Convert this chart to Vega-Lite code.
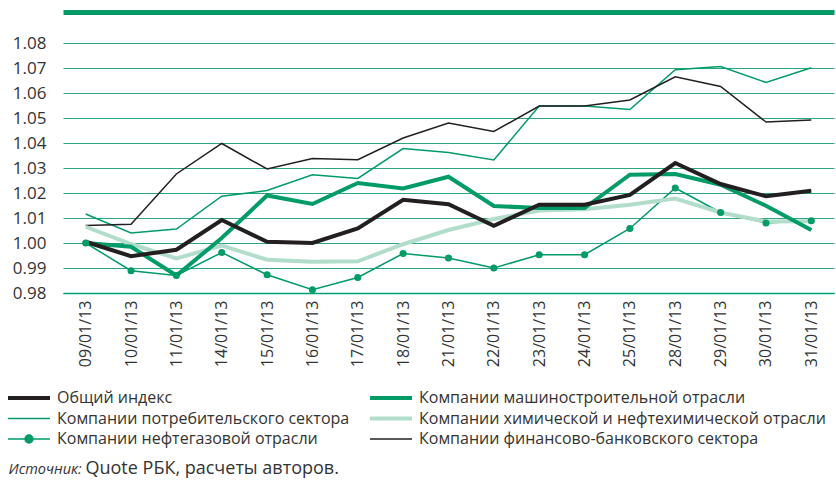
{
  "$schema": "https://vega.github.io/schema/vega-lite/v6.json",
  "width": 771,
  "height": 250,
  "autosize": "none",
  "padding": {"left": 63, "top": 43, "right": 2, "bottom": 188},
  "background": "white",
  "config": {"view": {"stroke": null}, "font": "Open Sans"},
  "data": {"values": [
    {"d": "09/01/13", "Компании химической и нефтехимической отрасли": 1.0065, "Компании потребительского сектора": 1.0116, "Компании финансово-банковского сектора": 1.0070, "Компании нефтегазовой отрасли": 1.0000, "Компании машиностроительной отрасли": 1.0000, "Общий индекс": 1.0005},
    {"d": "10/01/13", "Компании химической и нефтехимической отрасли": 0.9996, "Компании потребительского сектора": 1.0040, "Компании финансово-банковского сектора": 1.0075, "Компании нефтегазовой отрасли": 0.9889, "Компании машиностроительной отрасли": 0.9985, "Общий индекс": 0.9947},
    {"d": "11/01/13", "Компании химической и нефтехимической отрасли": 0.9938, "Компании потребительского сектора": 1.0056, "Компании финансово-банковского сектора": 1.0276, "Компании нефтегазовой отрасли": 0.9870, "Компании машиностроительной отрасли": 0.9870, "Общий индекс": 0.9973},
    {"d": "14/01/13", "Компании химической и нефтехимической отрасли": 0.9990, "Компании потребительского сектора": 1.0187, "Компании финансово-банковского сектора": 1.0398, "Компании нефтегазовой отрасли": 0.9962, "Компании машиностроительной отрасли": 1.0020, "Общий индекс": 1.0092},
    {"d": "15/01/13", "Компании химической и нефтехимической отрасли": 0.9933, "Компании потребительского сектора": 1.0210, "Компании финансово-банковского сектора": 1.0296, "Компании нефтегазовой отрасли": 0.9873, "Компании машиностроительной отрасли": 1.0190, "Общий индекс": 1.0005},
    {"d": "16/01/13", "Компании химической и нефтехимической отрасли": 0.9925, "Компании потребительского сектора": 1.0273, "Компании финансово-банковского сектора": 1.0338, "Компании нефтегазовой отрасли": 0.9813, "Компании машиностроительной отрасли": 1.0156, "Общий индекс": 1.0000},
    {"d": "17/01/13", "Компании химической и нефтехимической отрасли": 0.9927, "Компании потребительского сектора": 1.0258, "Компании финансово-банковского сектора": 1.0333, "Компании нефтегазовой отрасли": 0.9862, "Компании машиностроительной отрасли": 1.0240, "Общий индекс": 1.0058},
    {"d": "18/01/13", "Компании химической и нефтехимической отрасли": 0.9995, "Компании потребительского сектора": 1.0378, "Компании финансово-банковского сектора": 1.0420, "Компании нефтегазовой отрасли": 0.9958, "Компании машиностроительной отрасли": 1.0218, "Общий индекс": 1.0173},
    {"d": "21/01/13", "Компании химической и нефтехимической отрасли": 1.0052, "Компании потребительского сектора": 1.0362, "Компании финансово-банковского сектора": 1.0480, "Компании нефтегазовой отрасли": 0.9940, "Компании машиностроительной отрасли": 1.0265, "Общий индекс": 1.0155},
    {"d": "22/01/13", "Компании химической и нефтехимической отрасли": 1.0096, "Компании потребительского сектора": 1.0332, "Компании финансово-банковского сектора": 1.0446, "Компании нефтегазовой отрасли": 0.9900, "Компании машиностроительной отрасли": 1.0148, "Общий индекс": 1.0069},
    {"d": "23/01/13", "Компании химической и нефтехимической отрасли": 1.0130, "Компании потребительского сектора": 1.0548, "Компании финансово-банковского сектора": 1.0548, "Компании нефтегазовой отрасли": 0.9953, "Компании машиностроительной отрасли": 1.0140, "Общий индекс": 1.0153},
    {"d": "24/01/13", "Компании химической и нефтехимической отрасли": 1.0135, "Компании потребительского сектора": 1.0548, "Компании финансово-банковского сектора": 1.0548, "Компании нефтегазовой отрасли": 0.9953, "Компании машиностроительной отрасли": 1.0140, "Общий индекс": 1.0153},
    {"d": "25/01/13", "Компании химической и нефтехимической отрасли": 1.0153, "Компании потребительского сектора": 1.0534, "Компании финансово-банковского сектора": 1.0572, "Компании нефтегазовой отрасли": 1.0058, "Компании машиностроительной отрасли": 1.0273, "Общий индекс": 1.0192},
    {"d": "28/01/13", "Компании химической и нефтехимической отрасли": 1.0178, "Компании потребительского сектора": 1.0693, "Компании финансово-банковского сектора": 1.0665, "Компании нефтегазовой отрасли": 1.0220, "Компании машиностроительной отрасли": 1.0276, "Общий индекс": 1.0320},
    {"d": "29/01/13", "Компании химической и нефтехимической отрасли": 1.0122, "Компании потребительского сектора": 1.0706, "Компании финансово-банковского сектора": 1.0626, "Компании нефтегазовой отрасли": 1.0122, "Компании машиностроительной отрасли": 1.0233, "Общий индекс": 1.0236},
    {"d": "30/01/13", "Компании химической и нефтехимической отрасли": 1.0086, "Компании потребительского сектора": 1.0642, "Компании финансово-банковского сектора": 1.0484, "Компании нефтегазовой отрасли": 1.0080, "Компании машиностроительной отрасли": 1.0149, "Общий индекс": 1.0187},
    {"d": "31/01/13", "Компании химической и нефтехимической отрасли": 1.0087, "Компании потребительского сектора": 1.0701, "Компании финансово-банковского сектора": 1.0492, "Компании нефтегазовой отрасли": 1.0089, "Компании машиностроительной отрасли": 1.0052, "Общий индекс": 1.0209}
  ]},
  "transform": [
    {"fold": ["Компании химической и нефтехимической отрасли", "Компании потребительского сектора", "Компании финансово-банковского сектора", "Компании нефтегазовой отрасли", "Компании машиностроительной отрасли", "Общий индекс"], "as": ["s", "v"]}
  ],
  "encoding": {
    "y": {"field": "v", "type": "quantitative",
      "scale": {"domain": [0.98, 1.08], "zero": false, "nice": false},
      "axis": {"title": "Источник:", "titleAngle": 0, "titleX": -55, "titleY": 426, "titleAlign": "left", "titleBaseline": "middle", "titleFontStyle": "italic", "titleFontWeight": "normal", "titleFontSize": 14.5, "titleColor": "#333333",
        "values": [0.98, 0.99, 1.0, 1.01, 1.02, 1.03, 1.04, 1.05, 1.06, 1.07, 1.08], "format": ".2f", "labelOverlap": false,
        "labelFontSize": 17, "labelColor": "#333333", "labelPadding": 17, "domain": false, "ticks": false, "grid": true, "gridColor": "#2BA67E", "gridWidth": 1}}
  },
  "resolve": {"axis": {"x": "independent"}},
  "layer": [
    {
      "transform": [{"filter": "datum.s === 'Компании потребительского сектора' || datum.s === 'Компании финансово-банковского сектора' || datum.s === 'Компании нефтегазовой отрасли'"}],
      "mark": {"type": "line", "strokeWidth": 1.5, "strokeJoin": "miter"},
      "encoding": {
        "x": {"field": "d", "type": "ordinal", "sort": null,
          "scale": {"type": "point", "padding": 0.5},
          "axis": {"title": "Quote РБК, расчеты авторов.", "titleX": 22, "titleY": 175, "titleAlign": "left", "titleBaseline": "middle", "titleFontSize": 18, "titleFontWeight": "normal", "titleColor": "#333333",
            "labelAngle": -90, "labelFontSize": 16, "labelColor": "#333333", "labelPadding": 7, "labelOverlap": false, "ticks": false, "grid": false, "domainColor": "#00A070", "domainWidth": 1.5}},
        "color": {"field": "s", "type": "nominal",
          "scale": {"domain": ["Общий индекс", "Компании потребительского сектора", "Компании нефтегазовой отрасли", "Компании машиностроительной отрасли", "Компании химической и нефтехимической отрасли", "Компании финансово-банковского сектора"],
            "range": ["#231F20", "#009B68", "#009B68", "#009B68", "#B3DDCB", "#231F20"]},
          "legend": {"orient": "none", "legendX": -42, "legendY": 347, "columns": 2, "title": null,
            "symbolSize": 110.25, "labelFontSize": 16, "labelColor": "#333333", "labelLimit": 600,
            "labelOffset": 20, "symbolOffset": 0, "rowPadding": 4.5, "columnPadding": 12, "padding": 0,
            "encode": {"symbols": {"update": {
              "shape": {"signal": "datum.value === 'Компании нефтегазовой отрасли' ? 'M-4,0H4M-0.75,0A0.75,0.75,0,1,1,0.75,0A0.75,0.75,0,1,1,-0.75,0Z' : 'M-4,0H4'"},
              "fill": {"signal": "datum.value === 'Компании нефтегазовой отрасли' ? '#009B68' : 'transparent'"},
              "strokeWidth": {"signal": "indexof(['Общий индекс','Компании машиностроительной отрасли','Компании химической и нефтехимической отрасли'], datum.value) >= 0 ? 4 : 1.5"}
            }}}}}
      }
    },
    {
      "transform": [{"filter": "datum.s === 'Компании химической и нефтехимической отрасли' || datum.s === 'Компании машиностроительной отрасли' || datum.s === 'Общий индекс'"}],
      "mark": {"type": "line", "strokeWidth": 4, "strokeJoin": "miter"},
      "encoding": {
        "x": {"field": "d", "type": "ordinal", "sort": null, "scale": {"type": "point", "padding": 0.5}, "axis": null},
        "color": {"field": "s", "type": "nominal"}
      }
    },
    {
      "transform": [{"filter": "datum.s === 'Компании нефтегазовой отрасли'"}],
      "mark": {"type": "point", "filled": true, "size": 50, "opacity": 1, "color": "#009B68"},
      "encoding": {
        "x": {"field": "d", "type": "ordinal", "sort": null, "scale": {"type": "point", "padding": 0.5}, "axis": null}
      }
    },
    {
      "mark": {"type": "point", "opacity": 0},
      "encoding": {
        "x": {"field": "d", "type": "ordinal", "sort": null, "scale": {"type": "point", "padding": 0.5},
          "axis": {"orient": "top", "labels": false, "ticks": false, "grid": false, "title": null, "domainColor": "#009966", "domainWidth": 5, "offset": 31}}
      }
    }
  ]
}
